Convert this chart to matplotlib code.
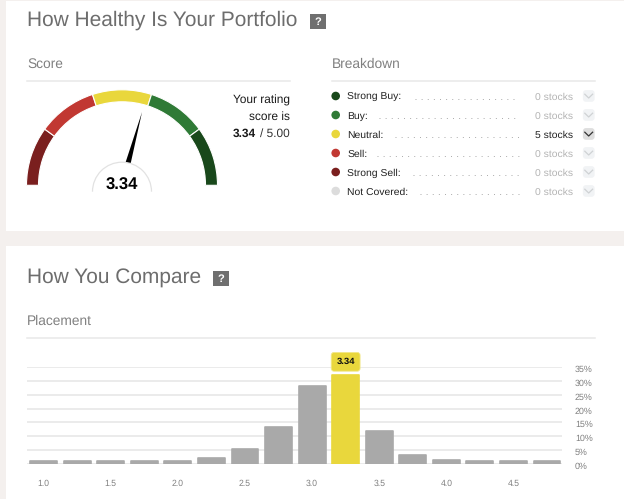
import math
import matplotlib
matplotlib.use("Agg")
import matplotlib.pyplot as plt
from matplotlib.patches import Arc, FancyBboxPatch, Polygon, Rectangle, Wedge, Circle
from matplotlib.transforms import offset_copy

plt.rcParams["font.family"] = ["Liberation Sans", "DejaVu Sans"]
plt.rcParams["text.hinting"] = "no_hinting"

# data
score = 3.34
score_max = 5.00
gauge_colors = ["#7a1f1e", "#c13832", "#e9d73c", "#2f7a36", "#19481b"]

rating_names = ["Strong Buy:", "Buy:", "Neutral:", "Sell:", "Strong Sell:", "Not Covered:"]
rating_counts = [0, 0, 5, 0, 0, 0]
rating_colors = ["#19481b", "#2f7a36", "#e9d73c", "#c13832", "#7a1f1e", "#dcdcdc"]
dots_start = [415, 379, 395, 377, 413, 420]

bin_centers = [1.0, 1.25, 1.5, 1.75, 2.0, 2.25, 2.5, 2.75, 3.0, 3.25, 3.5, 3.75, 4.0, 4.25, 4.5, 4.75]
bin_percent = [1.0, 1.0, 1.0, 1.0, 1.0, 2.0, 5.5, 13.2, 28.3, 32.2, 12.0, 3.2, 1.3, 1.0, 1.0, 1.0]
x_ticks = [1.0, 1.5, 2.0, 2.5, 3.0, 3.5, 4.0, 4.5]
y_ticks = [0, 5, 10, 15, 20, 25, 30, 35]

W, H = 624, 499
fig = plt.figure(figsize=(W / 100, H / 100), dpi=100, facecolor="#f4f0ee")
ax = fig.add_axes([0, 0, 1, 1])
ax.set_xlim(0, W)
ax.set_ylim(0, H)
ax.axis("off")


def Y(y):
    return H - y


GREY_TITLE = "#6d6d6d"
GREY_HEAD = "#808080"
RULE = "#e8e8e8"

# cards
ax.add_patch(Rectangle((6, Y(231)), W - 6, 230, fc="white", ec="none"))
ax.add_patch(Rectangle((6, 0), W - 6, Y(246), fc="white", ec="none"))

# headings
ax.text(27, Y(26), "How Healthy Is Your Portfolio", fontsize=15, color=GREY_TITLE, va="baseline")
ax.text(27, Y(283.3), "How You Compare", fontsize=15, color=GREY_TITLE, va="baseline")
for qx, qy in [(310, 14), (213, 271)]:
    ax.add_patch(Rectangle((qx, Y(qy + 15)), 16, 15, fc="#6f6f6f", ec="none"))
    ax.text(qx + 8, Y(qy + 11), "?", fontsize=8, color="white", weight="bold", ha="center", va="baseline")

ax.text(27, Y(67.5), "Score", fontsize=9.9, color=GREY_HEAD, va="baseline")
ax.text(331.5, Y(67.5), "Breakdown", fontsize=9.9, color=GREY_HEAD, va="baseline")
ax.text(27, Y(325), "Placement", fontsize=9.9, color=GREY_HEAD, va="baseline")
ax.plot([27, 290], [Y(80.7)] * 2, color=RULE, lw=1.1)
ax.plot([331.5, 594.5], [Y(80.7)] * 2, color=RULE, lw=1.1)
ax.plot([27, 594.5], [Y(338)] * 2, color=RULE, lw=1.1)

# gauge
cx, cy = 122, Y(185.3)
for i, c in enumerate(gauge_colors):
    ax.add_patch(Wedge((cx, cy), 95.5, 180 - 36 * (i + 1), 180 - 36 * i, width=12, fc=c, ec="white", lw=0.8))

ang = math.radians(180 - (score - 1) / (score_max - 1) * 180)
ux, uy = math.cos(ang), math.sin(ang)
nx, ny = -uy, ux
ax.add_patch(Polygon([(cx + 76 * ux, cy + 76 * uy),
                      (cx + 23 * ux + 2.6 * nx, cy + 23 * uy + 2.6 * ny),
                      (cx + 23 * ux - 2.6 * nx, cy + 23 * uy - 2.6 * ny)], fc="black", ec="none"))
hub_y = Y(191.7)
ax.add_patch(Wedge((cx, hub_y), 29.5, 0, 180, fc="white", ec="none"))
ax.add_patch(Arc((cx, hub_y), 59, 59, theta1=0, theta2=180, color="#e2e2e2", lw=0.9))
ax.text(cx, Y(190), f"{score:.2f}", fontsize=12, weight="bold", color="black", ha="center", va="baseline")

ax.text(290, Y(103.3), "Your rating", fontsize=8.6, color="#1a1a1a", ha="right", va="baseline")
ax.text(290, Y(120), "score is", fontsize=8.6, color="#1a1a1a", ha="right", va="baseline")
ax.text(256, Y(137.3), f"{score:.2f}", fontsize=8.6, weight="bold", color="#1a1a1a", ha="right", va="baseline")
ax.text(290, Y(137.3), f"/ {score_max:.2f}", fontsize=8.6, color="#333333", ha="right", va="baseline")

# breakdown list
for i, name in enumerate(rating_names):
    ry = Y(96 + 19 * i)
    n = rating_counts[i]
    ax.add_patch(Circle((335.7, ry), 4.3, fc=rating_colors[i], ec="none"))
    ax.text(347.3, ry - 4, name, fontsize=7.5, color="#222222", va="baseline")
    ax.plot([dots_start[i], 518.5], [ry - 3.3] * 2, color="#aaaaaa", lw=0.7, ls=(0, (1, 5.3)))
    ax.text(573.3, ry - 4, f"{n} stocks", fontsize=7.5, color="#222222" if n else "#b4b4b4", ha="right", va="baseline")
    ax.add_patch(FancyBboxPatch((584, ry - 4.7), 9.5, 9.5, boxstyle="round,pad=0,rounding_size=2", mutation_scale=1,
                                fc="#dedede" if n else "#f1f3f5", ec="#dedede" if n else "#f1f3f5", lw=1.6))
    ax.plot([584.8, 588.7, 592.6], [ry + 1.8, ry - 2, ry + 1.8], color="#333333" if n else "#cfd2d4", lw=0.9)

# placement bars
left, right, top, bottom = 27, 561.7, 367.3, 463.7
bar_ax = fig.add_axes([left / W, (H - bottom) / H, (right - left) / W, (bottom - top) / H])
bar_ax.patch.set_alpha(0)
bar_ax.set_xlim(0.8756, 4.86)
bar_ax.set_ylim(0, 35)
bar_colors = ["#e9d73c" if c == 3.25 else "#a9a9a9" for c in bin_centers]
bar_ax.bar(bin_centers, bin_percent, width=0.2, color=bar_colors, edgecolor=bar_colors, linewidth=1.2,
           joinstyle="round", zorder=3)
bar_ax.grid(axis="y", color="#e6e6e6", lw=1.1, zorder=0)
bar_ax.set_axisbelow(True)
for s in bar_ax.spines.values():
    s.set_visible(False)
bar_ax.yaxis.tick_right()
bar_ax.set_xticks(x_ticks, [f"{t:.1f}" for t in x_ticks])
bar_ax.set_yticks(y_ticks, [f"{t}%" for t in y_ticks])
bar_ax.tick_params(axis="x", length=0, pad=11, labelsize=6.2, labelcolor="#808080")
bar_ax.tick_params(axis="y", length=0, pad=9.5, labelsize=6.4, labelcolor="#808080")
for t in bar_ax.get_yticklabels():
    t.set_ha("left")
    t.set_va("center")
    t.set_transform(offset_copy(t.get_transform(), fig=fig, y=-2.5, units="dots"))
bar_ax.annotate(f"{score:.2f}", xy=(3.25, 32.2), xytext=(0, 9), textcoords="offset pixels", ha="center", va="bottom",
                fontsize=6.8, weight="bold", color="#111111",
                bbox=dict(boxstyle="round,pad=0.55,rounding_size=0.3", fc="#e9d73c", ec="#f2e88a", lw=0.6))

fig.savefig("out.png", dpi=100, facecolor=fig.get_facecolor())
